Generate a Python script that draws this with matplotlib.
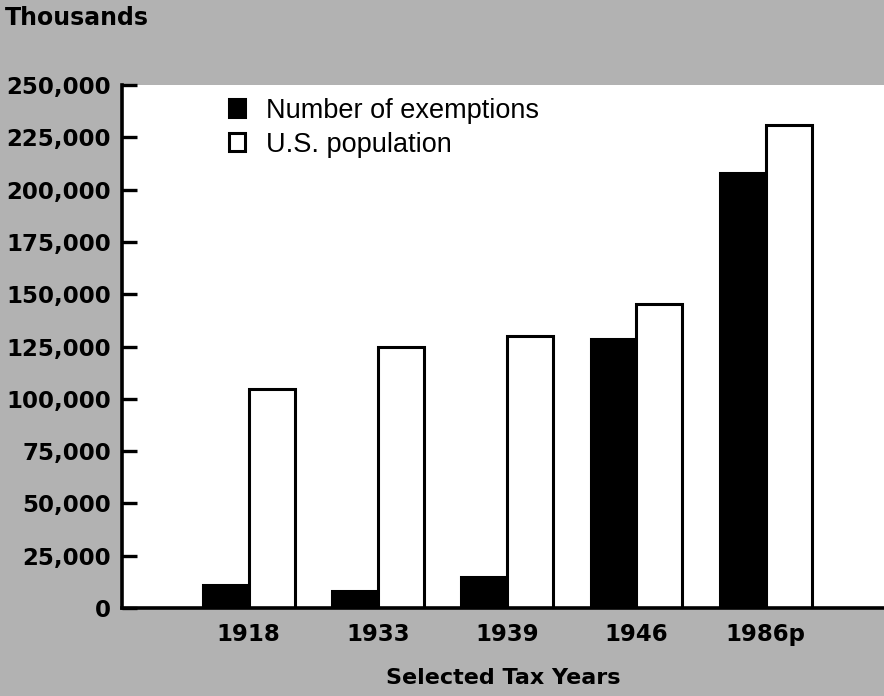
"""Exemptions vs U.S. population, selected tax years."""

import matplotlib.pyplot as plt
import matplotlib.ticker as mticker
import numpy as np

anos = ["1918", "1933", "1939", "1946", "1986p"]
isencoes = [11000, 8000, 15000, 128500, 208000]
populacao = [104500, 125000, 130000, 145500, 231000]
rotulos_y = [0, 25000, 50000, 75000, 100000, 125000, 150000, 175000, 200000, 225000, 250000]

fundo = "#b2b2b2"

fig = plt.figure(figsize=(8.84, 6.96), dpi=100, facecolor=fundo)
ax = fig.add_axes([122 / 884, 88 / 696, 762 / 884, 523 / 696])
ax.set_facecolor("white")

x = np.arange(len(anos))
largura = 0.355
ax.bar(x - largura / 2, isencoes, largura, color="black", edgecolor="black",
       linewidth=2.2, label="Number of exemptions")
ax.bar(x + largura / 2, populacao, largura, color="white", edgecolor="black",
       linewidth=2.2, label="U.S. population")

ax.set_xlim(-0.98, 4.915)
ax.set_ylim(0, 250000)

for lado in ["top", "right"]:
    ax.spines[lado].set_visible(False)
for lado in ["left", "bottom"]:
    ax.spines[lado].set_linewidth(2.6)

ax.set_yticks(rotulos_y)
ax.yaxis.set_major_formatter(mticker.FuncFormatter(lambda v, p: f"{int(v):,}"))
ax.tick_params(axis="y", direction="in", length=11, width=2.4, pad=8)
ax.set_xticks(x)
ax.set_xticklabels(anos)
ax.tick_params(axis="x", length=0, pad=11)
for rotulo in ax.get_xticklabels() + ax.get_yticklabels():
    rotulo.set_fontfamily("DejaVu Sans")
    rotulo.set_fontweight("bold")
    rotulo.set_fontsize(16.5)

ax.set_xlabel("Selected Tax Years", fontfamily="DejaVu Sans", fontweight="bold",
              fontsize=16, labelpad=16)
fig.text(5 / 884, 1 - 18 / 696, "Thousands", fontfamily="DejaVu Sans",
         fontweight="bold", fontsize=17, va="center", ha="left")

ax.legend(loc="upper left", bbox_to_anchor=(0.115, 1.012), frameon=False,
          prop={"family": "Liberation Sans", "size": 19.5},
          handlelength=0.62, handleheight=0.62, handletextpad=0.75,
          labelspacing=0.3, borderaxespad=0.3)

fig.savefig("out.png", dpi=100, facecolor=fundo)
plt.close(fig)
